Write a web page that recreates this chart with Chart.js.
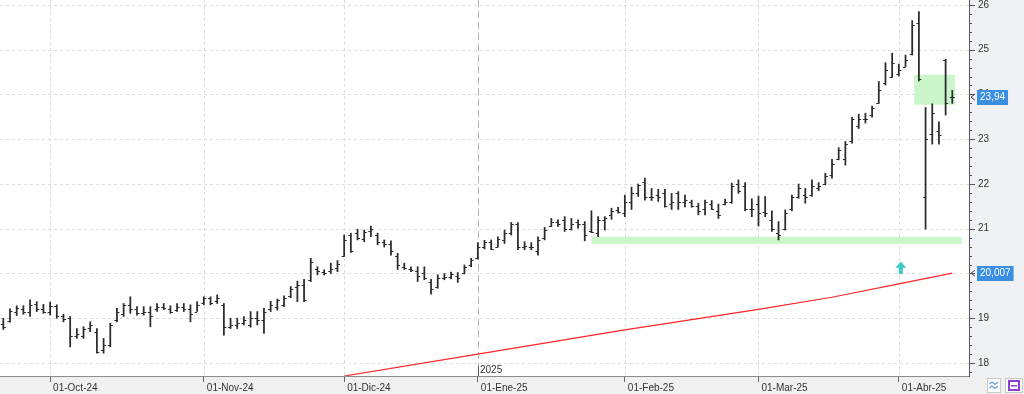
<!DOCTYPE html>
<html>
<head>
<meta charset="utf-8">
<script src="https://cdn.jsdelivr.net/npm/chart.js@4.4.1/dist/chart.umd.min.js"></script>
<style>
  html, body { margin: 0; padding: 0; background: #fff; }
  canvas { display: block; }
</style>
</head>
<body>
<canvas id="grafico" width="1024" height="394"></canvas>
<script>
// sesiones: del 20-sep-24 al 11-abr-25 (sin fines de semana ni festivos)
const primerDia = '2024-09-20';
const ultimoDia = '2025-04-11';
const festivos = ['2024-12-25', '2024-12-26', '2025-01-01'];

const etiquetasMes = ['01-Oct-24', '01-Nov-24', '01-Dic-24', '01-Ene-25', '01-Feb-25', '01-Mar-25', '01-Abr-25'];
const ticksY = [18, 19, 20, 21, 22, 23, 24, 25, 26];

const aperturas = [
  18.88, 18.93, 19.15, 19.20, 19.15, 19.32, 19.20, 19.15, 19.28, 19.05,
  19.00, 18.60, 18.60, 18.78, 18.70, 18.30, 18.40, 18.95, 19.10, 19.30,
  19.20, 19.12, 19.15, 19.20, 19.25, 19.20, 19.18, 19.25, 19.20, 19.15,
  19.35, 19.45, 19.38, 19.30, 18.80, 18.85, 18.90, 18.85, 19.00, 18.95,
  19.20, 19.25, 19.30, 19.50, 19.70, 19.75, 19.85, 20.10, 20.03, 20.05,
  20.12, 20.40, 20.85, 20.90, 20.78, 20.95, 20.85, 20.70, 20.65, 20.40,
  20.15, 20.10, 20.05, 20.00, 19.80, 19.70, 19.90, 19.92, 19.95, 20.00,
  20.20, 20.35, 20.60, 20.70, 20.60, 20.75, 20.90, 21.10, 20.60, 20.60,
  20.50, 20.80, 21.05, 21.15, 21.20, 21.00, 21.15, 21.10, 20.95, 20.90,
  21.20, 21.30, 21.42, 21.35, 21.60, 21.80, 22.05, 21.70, 21.75, 21.80,
  21.55, 21.80, 21.60, 21.60, 21.50, 21.45, 21.55, 21.40, 21.55, 21.60,
  22.00, 21.95, 21.45, 21.55, 21.38, 21.20, 20.90, 21.00, 21.45, 21.70,
  21.75, 21.75, 21.90, 22.00, 22.20, 22.55, 22.55, 22.95, 23.30, 23.45,
  23.55, 23.80, 24.25, 24.40, 24.45, 24.62, 24.90, 25.60, 21.70, 23.12,
  23.19, 24.77, 23.95
];
const maximos = [
  19.00, 19.21, 19.28, 19.28, 19.41, 19.37, 19.31, 19.36, 19.30, 19.09,
  19.04, 18.77, 18.81, 18.92, 18.77, 18.55, 18.89, 19.22, 19.33, 19.48,
  19.26, 19.26, 19.26, 19.33, 19.33, 19.28, 19.33, 19.33, 19.30, 19.37,
  19.48, 19.48, 19.52, 19.33, 19.00, 19.00, 19.04, 19.15, 19.15, 19.22,
  19.38, 19.43, 19.50, 19.71, 19.83, 19.87, 20.34, 20.15, 20.08, 20.23,
  20.29, 20.86, 20.90, 20.99, 20.97, 21.06, 20.90, 20.75, 20.73, 20.45,
  20.23, 20.15, 20.15, 20.15, 19.87, 19.97, 20.00, 20.03, 20.02, 20.19,
  20.34, 20.69, 20.74, 20.75, 20.82, 20.97, 21.14, 21.14, 20.71, 20.69,
  20.82, 21.03, 21.23, 21.20, 21.27, 21.23, 21.20, 21.16, 21.40, 21.27,
  21.27, 21.46, 21.48, 21.75, 21.93, 22.00, 22.13, 21.90, 21.88, 21.88,
  21.79, 21.83, 21.75, 21.64, 21.57, 21.64, 21.63, 21.55, 21.66, 22.02,
  22.09, 22.03, 21.67, 21.73, 21.72, 21.40, 21.16, 21.42, 21.75, 22.00,
  21.90, 22.09, 22.03, 22.24, 22.55, 22.81, 22.95, 23.49, 23.56, 23.58,
  23.74, 24.29, 24.71, 24.92, 24.68, 24.88, 25.65, 25.85, 23.71, 23.79,
  23.39, 24.79, 24.09
];
const minimos = [
  18.75, 18.91, 19.06, 19.09, 19.04, 19.15, 19.11, 19.07, 19.00, 18.92,
  18.36, 18.55, 18.55, 18.70, 18.22, 18.22, 18.36, 18.92, 19.04, 19.11,
  19.07, 19.07, 18.81, 19.15, 19.19, 19.11, 19.15, 19.15, 18.92, 19.15,
  19.30, 19.30, 19.33, 18.62, 18.77, 18.77, 18.85, 18.80, 18.85, 18.66,
  19.15, 19.18, 19.26, 19.46, 19.37, 19.37, 19.82, 19.97, 19.97, 20.00,
  20.04, 20.38, 20.47, 20.75, 20.71, 20.82, 20.64, 20.59, 20.41, 20.09,
  20.09, 20.04, 19.82, 19.86, 19.54, 19.67, 19.86, 19.88, 19.80, 19.99,
  20.15, 20.32, 20.55, 20.53, 20.59, 20.67, 20.86, 20.53, 20.53, 20.53,
  20.41, 20.75, 21.05, 21.05, 20.94, 20.97, 21.01, 20.73, 20.91, 20.82,
  20.97, 21.21, 21.35, 21.27, 21.43, 21.72, 21.64, 21.63, 21.61, 21.48,
  21.43, 21.43, 21.49, 21.48, 21.31, 21.31, 21.43, 21.23, 21.53, 21.57,
  21.79, 21.40, 21.27, 21.06, 21.27, 20.94, 20.75, 20.97, 21.40, 21.68,
  21.57, 21.72, 21.85, 21.98, 22.13, 22.54, 22.42, 22.91, 23.24, 23.36,
  23.49, 23.80, 24.21, 24.38, 24.41, 24.62, 24.88, 24.30, 20.99, 22.89,
  22.89, 23.54, 23.80
];
const cierres = [
  18.80, 19.17, 19.22, 19.15, 19.30, 19.20, 19.15, 19.28, 19.05, 18.98,
  18.60, 18.65, 18.75, 18.85, 18.25, 18.40, 18.85, 19.15, 19.30, 19.20,
  19.12, 19.15, 19.05, 19.25, 19.22, 19.15, 19.25, 19.20, 19.10, 19.30,
  19.45, 19.35, 19.45, 18.80, 18.85, 18.90, 18.95, 19.00, 18.95, 19.15,
  19.30, 19.40, 19.45, 19.65, 19.75, 19.40, 20.25, 20.05, 20.02, 20.10,
  20.22, 20.75, 20.50, 20.80, 20.92, 21.00, 20.70, 20.65, 20.50, 20.20,
  20.12, 20.08, 19.95, 19.90, 19.65, 19.90, 19.92, 19.98, 19.90, 20.15,
  20.30, 20.60, 20.70, 20.55, 20.78, 20.90, 21.10, 20.60, 20.62, 20.60,
  20.75, 20.98, 21.15, 21.10, 21.00, 21.10, 21.10, 20.85, 20.93, 21.20,
  21.25, 21.40, 21.38, 21.60, 21.80, 21.97, 21.70, 21.72, 21.70, 21.50,
  21.60, 21.60, 21.65, 21.50, 21.40, 21.60, 21.45, 21.30, 21.60, 21.95,
  21.85, 21.45, 21.43, 21.35, 21.35, 21.00, 20.85, 21.35, 21.70, 21.90,
  21.70, 21.95, 21.95, 22.18, 22.45, 22.75, 22.90, 23.45, 23.45, 23.45,
  23.70, 24.10, 24.55, 24.70, 24.55, 24.78, 25.55, 24.35, 23.00, 23.59,
  23.10, 23.80, 23.94
];

// media movil (roja)
const mediaFechas = ['2024-12-02', '2025-01-02', '2025-02-03', '2025-03-03', '2025-03-18', '2025-04-01', '2025-04-11'];
const mediaValores = [17.71, 18.20, 18.74, 19.20, 19.47, 19.77, 20.007];

// zonas verdes y flecha (en unidades de datos: indice de sesion / precio)
const zonaSoporte = { desde: 88, hasta: 143.4, bajo: 20.66, alto: 20.82 };
const zonaCaja = { desde: 136.3, hasta: 142.4, bajo: 23.77, alto: 24.44 };
const flecha = { en: 134.3, base: 19.99, punta: 20.27 };

const sesiones = [];
for (let d = new Date(primerDia + 'T12:00:00Z'); d <= new Date(ultimoDia + 'T12:00:00Z'); d.setUTCDate(d.getUTCDate() + 1)) {
    const s = d.toISOString().slice(0, 10);
    const wd = d.getUTCDay();
    if (wd !== 0 && wd !== 6 && !festivos.includes(s)) sesiones.push(s);
}
const etiquetas = sesiones.concat(['', '']);

const inicioMes = [];
sesiones.forEach((s, i) => {
    if (i > 0 && s.slice(0, 7) !== sesiones[i - 1].slice(0, 7)) inicioMes.push(i);
});
const textoTick = {};
inicioMes.forEach((i, k) => { textoTick[i] = etiquetasMes[k]; });
const inicioAnio = inicioMes.find(i => sesiones[i].slice(0, 4) !== sesiones[i - 1].slice(0, 4));

const rangos = minimos.map((l, i) => [l, maximos[i]]);
const media = etiquetas.map(() => null);
mediaFechas.forEach((f, k) => { media[sesiones.indexOf(f)] = mediaValores[k]; });

const FUENTE = "'Liberation Sans', Arial, sans-serif";

const extras = {
    id: 'extras',
    beforeDraw(chart) {
        const { ctx, width, height, chartArea: a } = chart;
        ctx.save();
        ctx.fillStyle = '#ffffff';
        ctx.fillRect(0, 0, width, height);
        ctx.fillStyle = '#f0f0f0';
        ctx.fillRect(0, a.bottom, width, height - a.bottom);
        ctx.fillStyle = '#eff1f4';
        ctx.fillRect(a.right, 0, width - a.right, a.bottom);
        ctx.restore();
    },
    beforeDatasetsDraw(chart) {
        const { ctx, chartArea: a, scales: { x, y } } = chart;
        ctx.save();
        ctx.lineWidth = 1;
        // rejilla horizontal
        ctx.strokeStyle = '#dcdcdc';
        ctx.setLineDash([3, 3]);
        ticksY.forEach(v => {
            const py = Math.round(y.getPixelForValue(v)) + 0.5;
            ctx.beginPath(); ctx.moveTo(a.left, py); ctx.lineTo(a.right, py); ctx.stroke();
        });
        // rejilla vertical
        inicioMes.forEach(i => {
            const px = Math.round(x.getPixelForValue(i)) + 0.5;
            if (i === inicioAnio) { ctx.strokeStyle = '#b4b4b4'; ctx.setLineDash([7, 4]); }
            else { ctx.strokeStyle = '#dcdcdc'; ctx.setLineDash([3, 3]); }
            ctx.beginPath(); ctx.moveTo(px, a.top); ctx.lineTo(px, a.bottom); ctx.stroke();
        });
        ctx.setLineDash([]);
        // zonas verdes
        ctx.fillStyle = '#cbf6cb';
        [zonaSoporte, zonaCaja].forEach(z => {
            const x1 = x.getPixelForValue(z.desde), x2 = x.getPixelForValue(z.hasta);
            const y1 = y.getPixelForValue(z.alto), y2 = y.getPixelForValue(z.bajo);
            ctx.fillRect(x1, y1, x2 - x1, y2 - y1);
        });
        ctx.restore();
    },
    afterDatasetsDraw(chart) {
        const { ctx, scales: { x, y } } = chart;
        ctx.save();
        ctx.strokeStyle = '#2b2b2b';
        ctx.lineWidth = 1;
        ctx.beginPath();
        aperturas.forEach((o, i) => {
            const px = x.getPixelForValue(i);
            const yo = Math.round(y.getPixelForValue(o)) + 0.5;
            const yc = Math.round(y.getPixelForValue(cierres[i])) + 0.5;
            ctx.moveTo(px - 2.5, yo); ctx.lineTo(px, yo);
            ctx.moveTo(px, yc); ctx.lineTo(px + 2.5, yc);
        });
        ctx.stroke();
        // flecha cian
        const fx = x.getPixelForValue(flecha.en);
        const yb = y.getPixelForValue(flecha.base), yp = y.getPixelForValue(flecha.punta);
        const ym = (yb + yp) / 2;
        ctx.fillStyle = '#3ccaca';
        ctx.beginPath();
        ctx.moveTo(fx, yp);
        ctx.lineTo(fx + 5.5, ym);
        ctx.lineTo(fx + 2, ym);
        ctx.lineTo(fx + 2, yb);
        ctx.lineTo(fx - 2, yb);
        ctx.lineTo(fx - 2, ym);
        ctx.lineTo(fx - 5.5, ym);
        ctx.closePath();
        ctx.fill();
        ctx.restore();
    },
    afterDraw(chart) {
        const { ctx, chartArea: a, scales: { x, y } } = chart;
        ctx.save();
        // marcas del eje Y
        ctx.strokeStyle = '#555';
        ctx.lineWidth = 1;
        ctx.beginPath();
        y.ticks.forEach(t => {
            const py = Math.round(y.getPixelForValue(t.value)) + 0.5;
            const mayor = Math.abs(t.value - Math.round(t.value)) < 1e-6;
            ctx.moveTo(a.right, py); ctx.lineTo(a.right + (mayor ? 6 : 3), py);
        });
        ctx.stroke();
        // etiquetas de valor
        const ultimoCierre = cierres[cierres.length - 1];
        const ultimaMedia = mediaValores[mediaValores.length - 1];
        ctx.font = '10px ' + FUENTE;
        [[ultimoCierre, ultimoCierre.toFixed(2)], [ultimaMedia, ultimaMedia.toFixed(3)]].forEach(([v, t]) => {
            const txt = t.replace('.', ',');
            const py = y.getPixelForValue(v);
            const w = ctx.measureText(txt).width + 6;
            ctx.fillStyle = '#3a8fe3';
            ctx.fillRect(a.right + 8, Math.round(py) - 7, w, 15);
            ctx.fillStyle = '#fff';
            ctx.textBaseline = 'middle';
            ctx.textAlign = 'left';
            ctx.fillText(txt, a.right + 11, Math.round(py) + 0.5);
            ctx.strokeStyle = '#444';
            ctx.beginPath();
            ctx.moveTo(a.right + 6, py - 3); ctx.lineTo(a.right + 2, py); ctx.lineTo(a.right + 6, py + 3);
            ctx.stroke();
        });
        // marca del año
        const ax = Math.round(x.getPixelForValue(inicioAnio)) + 0.5;
        ctx.strokeStyle = '#555';
        ctx.beginPath(); ctx.moveTo(ax, a.bottom - 10); ctx.lineTo(ax, a.bottom); ctx.stroke();
        ctx.fillStyle = '#333';
        ctx.textBaseline = 'bottom';
        ctx.fillText(sesiones[inicioAnio].slice(0, 4), ax + 1.5, a.bottom - 1);
        // iconos abajo a la derecha
        ctx.fillStyle = '#fff';
        ctx.strokeStyle = '#c9c9c9';
        ctx.fillRect(987, 378, 13, 14); ctx.strokeRect(987.5, 378.5, 13, 14);
        ctx.fillRect(1005, 378, 17, 14); ctx.strokeRect(1005.5, 378.5, 17, 14);
        ctx.strokeStyle = '#5aa0e0';
        ctx.lineWidth = 1.2;
        [383, 387].forEach(yy => {
            ctx.beginPath();
            ctx.moveTo(989.5, yy + 1); ctx.lineTo(992, yy - 1); ctx.lineTo(995, yy + 1.5); ctx.lineTo(998, yy - 1);
            ctx.stroke();
        });
        ctx.strokeStyle = '#8b3fcf';
        ctx.lineWidth = 2;
        ctx.strokeRect(1009, 381, 10, 9);
        ctx.fillStyle = '#8b3fcf';
        ctx.fillRect(1011, 385, 6, 1.5);
        ctx.restore();
    }
};

new Chart(document.getElementById('grafico'), {
    type: 'bar',
    data: {
        labels: etiquetas,
        datasets: [
            {
                type: 'line',
                label: 'Media',
                data: media,
                borderColor: '#ff2626',
                borderWidth: 1.2,
                pointRadius: 0,
                spanGaps: true,
                tension: 0
            },
            {
                type: 'bar',
                label: 'Cotizacion',
                data: rangos,
                backgroundColor: '#2b2b2b',
                barThickness: 1.1,
                grouped: false
            }
        ]
    },
    options: {
        responsive: false,
        animation: false,
        devicePixelRatio: 1,
        layout: { padding: 0 },
        plugins: {
            legend: { display: false },
            tooltip: { enabled: false }
        },
        scales: {
            x: {
                type: 'category',
                offset: true,
                grid: {
                    offset: false,
                    drawOnChartArea: false,
                    drawTicks: true,
                    tickLength: 6,
                    tickColor: c => textoTick[c.index] ? '#666' : 'rgba(0,0,0,0)'
                },
                border: { color: '#8c8c8c' },
                ticks: {
                    autoSkip: false,
                    maxRotation: 0,
                    minRotation: 0,
                    align: 'start',
                    labelOffset: 3,
                    padding: 0,
                    color: '#333',
                    font: { family: FUENTE, size: 10 },
                    callback: (v, i) => textoTick[i] || ''
                },
                afterFit: s => { s.height = 18; s.paddingLeft = 0; s.paddingRight = 0; }
            },
            y: {
                position: 'right',
                min: 17.71,
                max: 26.11,
                grid: { drawOnChartArea: false, drawTicks: false },
                border: { color: '#555' },
                ticks: {
                    autoSkip: false,
                    padding: 9,
                    color: '#333',
                    font: { family: FUENTE, size: 10 },
                    callback: v => Math.abs(v - Math.round(v)) < 1e-6 ? String(Math.round(v)) : ''
                },
                afterBuildTicks: s => {
                    const t = [];
                    for (let k = 0; k <= 41; k++) t.push({ value: Math.round((17.8 + k * 0.2) * 10) / 10 });
                    s.ticks = t;
                },
                afterFit: s => { s.width = 55; s.paddingTop = 0; s.paddingBottom = 0; }
            }
        }
    },
    plugins: [extras]
});
</script>
</body>
</html>
